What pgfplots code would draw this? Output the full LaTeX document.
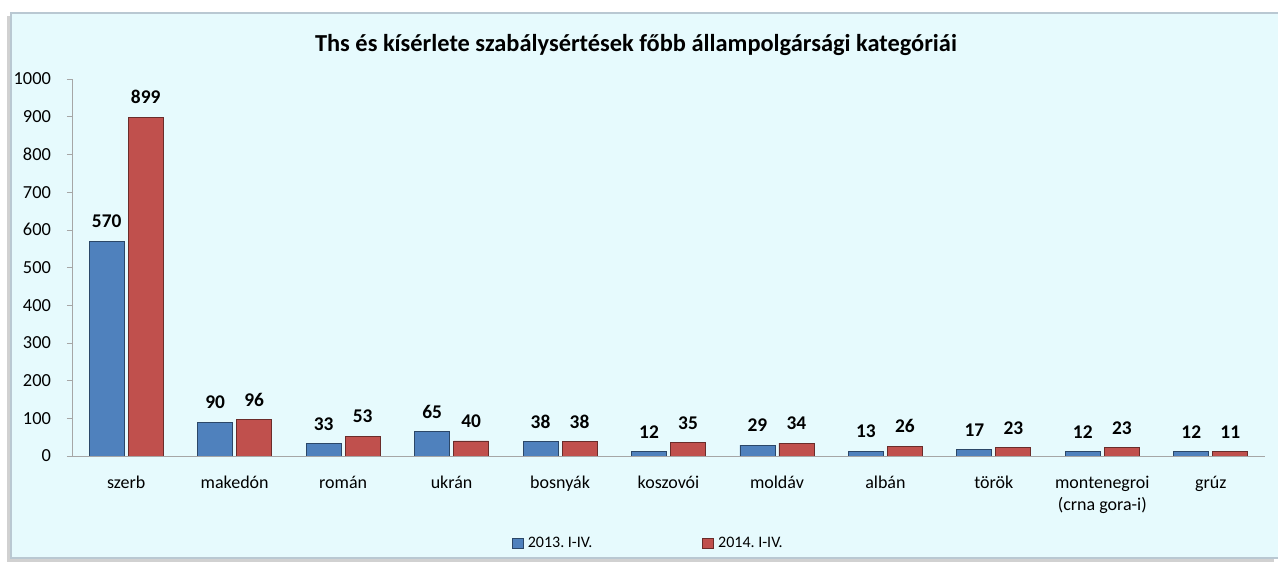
\documentclass[border=0pt]{standalone}
\usepackage{fontspec}
\setmainfont{Carlito}
\usepackage{pgfplots}
\pgfplotsset{compat=1.18}
\definecolor{bg}{RGB}{230,250,253}
\definecolor{sA}{RGB}{79,129,189}
\definecolor{sB}{RGB}{192,80,77}
\definecolor{frm}{RGB}{185,200,210}
\frenchspacing
\begin{document}
\begin{tikzpicture}[x=1pt,y=1pt]
\useasboundingbox (0,0) rectangle (639,283.5);
\fill[white] (0,0) rectangle (639,283.5);
\fill[black!18] (3.5,2.5) rectangle (637,275.5);
\fill[bg, draw=frm, line width=0.8pt] (5.5,4.5) rectangle (639.5,277);
\node[font=\bfseries\fontsize{12.2}{14}\selectfont] at (318,261) {Ths és kísérlete szabálysértések főbb állampolgársági kategóriái};
\begin{axis}[
  at={(36pt,55.5pt)}, anchor=south west,
  scale only axis, width=596.5pt, height=188.5pt,
  xmin=-0.5, xmax=10.5, ymin=0, ymax=1000,
  axis x line=bottom, axis y line=left,
  axis line style={-, draw=gray!70},
  ytick distance=100,
  tick align=outside,
  major tick length=2.5pt,
  ytick style={draw=gray!70},
  xtick=data, xtick style={draw=none},
  xticklabels={szerb, makedón, román, ukrán, bosnyák, koszovói, moldáv, albán, török, {montenegroi\\(crna gora-i)}, grúz},
  xticklabel style={align=center, font=\fontsize{9}{11}\selectfont, yshift=-4pt},
  yticklabel style={font=\fontsize{9.2}{11}\selectfont, xshift=-4.5pt},
  /pgf/number format/assume math mode=true,
  /pgf/number format/1000 sep={},
  ybar, bar width=17.5pt,
  nodes near coords,
  nodes near coords style={font=\bfseries\fontsize{9.7}{11}\selectfont, yshift=3pt},
  legend columns=2,
  legend style={at={(0.484,-0.233)}, anchor=center, draw=none, fill=none,
    font=\fontsize{8}{9}\selectfont,
    /tikz/every even column/.append style={column sep=53pt}},
  legend image code/.code={\draw[#1] (0pt,-2.5pt) rectangle (5.5pt,2.5pt);},
]
\addplot[fill=sA, draw=sA!55!black, bar shift=-9.75pt] coordinates {(0,570) (1,90) (2,33) (3,65) (4,38) (5,12) (6,29) (7,13) (8,17) (9,12) (10,12)};
\addplot[fill=sB, draw=sB!55!black, bar shift=9.75pt] coordinates {(0,899) (1,96) (2,53) (3,40) (4,38) (5,35) (6,34) (7,26) (8,23) (9,23) (10,11)};
\legend{2013. I-IV., 2014. I-IV.}
\end{axis}
\end{tikzpicture}
\end{document}
